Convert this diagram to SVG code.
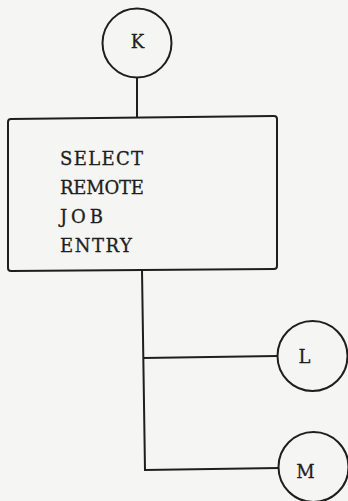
<svg xmlns="http://www.w3.org/2000/svg" width="348" height="501" viewBox="0 0 348 501">
<style>
.shape{fill:none;stroke:#1e1e1e;stroke-width:2}
.conn{fill:none;stroke:#1e1e1e;stroke-width:2}
text{font-family:'DejaVu Serif',serif;fill:#1e1e1e;stroke:#1e1e1e;stroke-width:0.3}
.circ{font-size:18px;text-anchor:middle}
.box{font-size:18px}
</style>
<rect x="0" y="0" width="348" height="501" fill="#f5f5f3"/>
<g id="connectors">
<line class="conn" x1="137" y1="77" x2="137" y2="118"/>
<polyline class="conn" points="142,270 145,470 279,468"/>
<line class="conn" x1="143" y1="358" x2="277" y2="356"/>
</g>
<g id="node-K">
<circle class="shape" cx="137" cy="43" r="34.5"/>
<text class="circ" x="137.5" y="48">K</text>
</g>
<g id="node-select">
<path class="shape" d="M11,119 L274,116 Q277,116 277,119 L277,266 Q277,269 274,269 L11,271 Q8,271 8,268 L8,122 Q8,119 11,119 Z"/>
<text class="box" x="60" y="165" textLength="83" lengthAdjust="spacing">SELECT</text>
<text class="box" x="60" y="193.5" textLength="84" lengthAdjust="spacing">REMOTE</text>
<text class="box" x="60" y="222.5" textLength="43" lengthAdjust="spacing">JOB</text>
<text class="box" x="60" y="251.5" textLength="72" lengthAdjust="spacing">ENTRY</text>
</g>
<g id="node-L">
<circle class="shape" cx="312.5" cy="356" r="35"/>
<text class="circ" x="304.5" y="363">L</text>
</g>
<g id="node-M">
<circle class="shape" cx="313.5" cy="467" r="35"/>
<text class="circ" x="305.5" y="478">M</text>
</g>
</svg>
